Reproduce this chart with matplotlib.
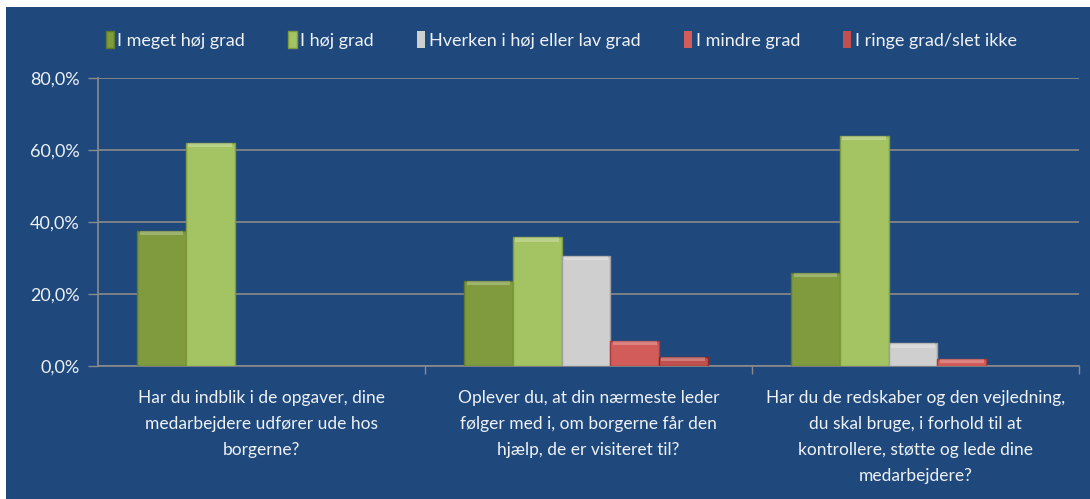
import numpy as np
import matplotlib
matplotlib.use('Agg')
import matplotlib.pyplot as plt
from matplotlib.ticker import FuncFormatter

plt.rcParams['font.family'] = ['Lato', 'DejaVu Sans']

# Data (percent)
questions = [
    'Har du indblik i de opgaver, dine\nmedarbejdere udfører ude hos\nborgerne?',
    'Oplever du, at din nærmeste leder\nfølger med i, om borgerne får den\nhjælp, de er visiteret til?',
    'Har du de redskaber og den vejledning,\ndu skal bruge, i forhold til at\nkontrollere, støtte og lede dine\nmedarbejdere?',
]
series_names = ['I meget høj grad', 'I høj grad', 'Hverken i høj eller lav grad',
                'I mindre grad', 'I ringe grad/slet ikke']
meget_hoej = [37.6, 23.6, 25.9]
hoej = [62.0, 35.7, 64.0]
hverken = [0.0, 30.6, 6.3]
mindre = [0.0, 7.0, 1.9]
ringe = [0.0, 2.6, 0.0]
values = [meget_hoej, hoej, hverken, mindre, ringe]

colors = ['#7f9b3e', '#a4c463', '#cfcfcf', '#d25c5a', '#c0504d']
edges = ['#5f7a2a', '#7f9b3e', '#a0a0a0', '#a83c3a', '#8a2a28']

bg = '#1f497d'
txt = '#eef1f5'
grid = '#8a8a8a'

fig = plt.figure(figsize=(10.9, 4.99), dpi=100)
fig.patch.set_facecolor('white')
# blue chart area with thin white rim on left/top
fig.patches.append(plt.Rectangle((6 / 1090, 0), 1, 1 - 7 / 499, transform=fig.transFigure,
                                 facecolor=bg, edgecolor='none', zorder=-10))

ax = fig.add_axes([98 / 1090, 1 - 366 / 499, (1079 - 98) / 1090, (366 - 78) / 499])
ax.set_facecolor(bg)

x = np.arange(len(questions))
w = 0.149
for i, (vals, name) in enumerate(zip(values, series_names)):
    pos = x + (i - 2) * w - 0.008
    ax.bar(pos, vals, width=w, color=colors[i],
           edgecolor=[edges[i] if v > 0 else 'none' for v in vals], linewidth=1.0,
           label=name, zorder=3)
    # bevel-like highlight strip on top
    hl = [min(v, 1.2) for v in vals]
    ax.bar(pos, hl, bottom=[v - h for v, h in zip(vals, hl)], width=w * 0.9,
           color='white', alpha=0.25, linewidth=0, zorder=4)

ax.set_xlim(-0.5, 2.5)
ax.set_ylim(0, 80)
ax.set_yticks([0, 20, 40, 60, 80])
ax.yaxis.set_major_formatter(FuncFormatter(lambda v, p: f'{v:.1f}%'.replace('.', ',')))
ax.grid(axis='y', color=grid, linewidth=1.2, zorder=0)
ax.set_axisbelow(True)

ax.set_xticks(x)
ax.set_xticklabels(questions, fontsize=12.5, color=txt, linespacing=1.78)
ax.tick_params(axis='x', length=0, pad=17)
ax.set_xticks([0.5, 1.5, 2.5], minor=True)
ax.tick_params(axis='x', which='minor', length=6, color=grid, width=1)
ax.tick_params(axis='y', length=7, color=grid, width=1, labelsize=13, labelcolor=txt, pad=6)

for s in ['top', 'right']:
    ax.spines[s].set_visible(False)
for s in ['left', 'bottom']:
    ax.spines[s].set_color(grid)
    ax.spines[s].set_linewidth(1.2)

handles, labels = ax.get_legend_handles_labels()
fig.legend(handles, labels, loc='center', bbox_to_anchor=(0.515, 1 - 40 / 499),
           ncol=5, frameon=False, fontsize=13, handlelength=0.45, handleheight=1.1,
           handletextpad=0.2, columnspacing=2.4, labelcolor=txt)

fig.savefig('out.png', dpi=100, facecolor=fig.get_facecolor())
